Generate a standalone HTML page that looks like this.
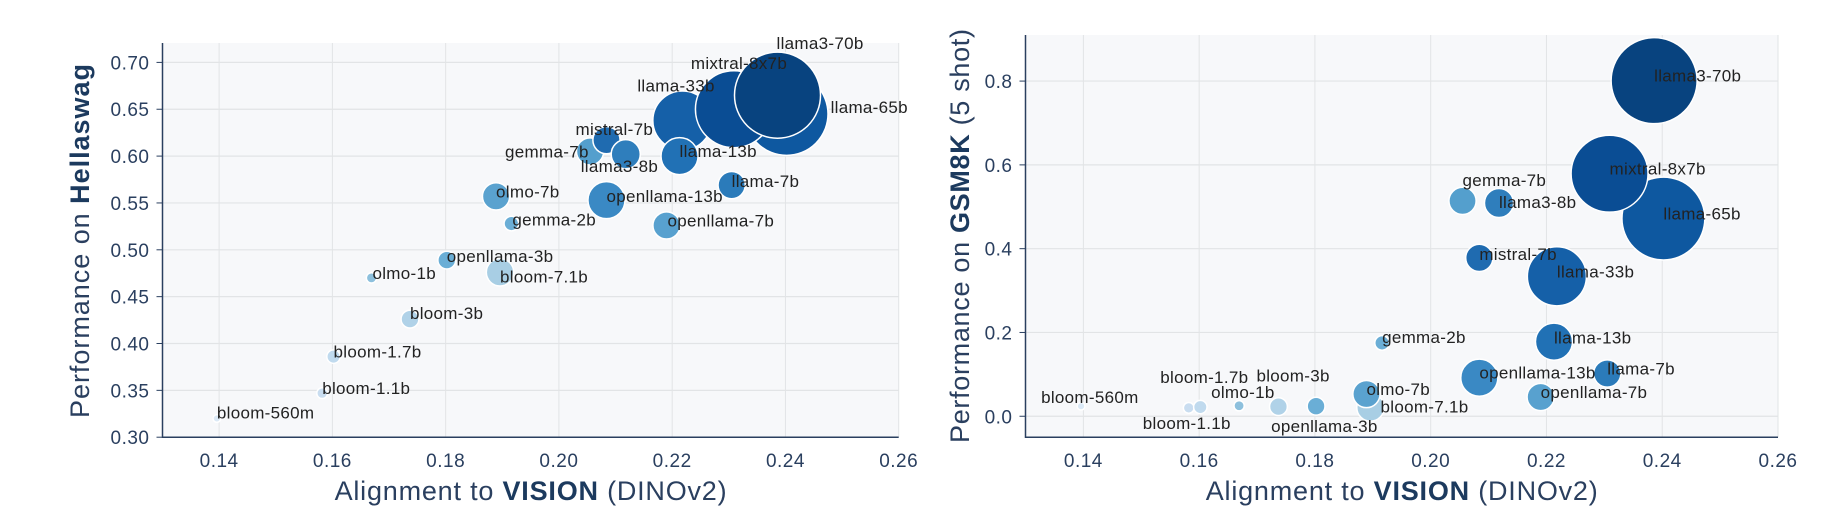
<!DOCTYPE html>
<html><head><meta charset="utf-8">
<style>
html,body{margin:0;padding:0;background:#fff;}
svg{display:block;font-family:"Liberation Sans",sans-serif;}
.tick{fill:#2a3f5f;font-size:19px;letter-spacing:0.5px;}
.lbl{fill:#222;font-size:17px;letter-spacing:0.3px;}
.ttl{fill:#2a3f5f;font-size:27px;}
</style></head><body>
<svg id="fig" width="1826" height="526" viewBox="0 0 1826 526" xmlns="http://www.w3.org/2000/svg"></svg>
<script>
const models = ["bloom-560m","bloom-1.1b","bloom-1.7b","bloom-3b","olmo-1b","openllama-3b","bloom-7.1b","gemma-2b","olmo-7b","openllama-13b","openllama-7b","llama-7b","gemma-7b","mistral-7b","llama3-8b","llama-33b","llama-13b","llama-65b","mixtral-8x7b","llama3-70b"];
const params = [0.56,1.1,1.7,3,1,3,7.1,2,7,13,7,7,7,7,8,33,13,65,56,70];
const alignment = [0.1396,0.1582,0.1602,0.1737,0.1669,0.1802,0.1896,0.1916,0.1889,0.2084,0.2190,0.2305,0.2055,0.2084,0.2118,0.2218,0.2213,0.2402,0.2309,0.2386];
const hellaswag = [0.320,0.347,0.386,0.426,0.470,0.489,0.476,0.528,0.557,0.553,0.526,0.569,0.605,0.617,0.602,0.638,0.600,0.645,0.650,0.665];
const gsm8k = [0.024,0.020,0.022,0.023,0.025,0.024,0.021,0.175,0.053,0.092,0.046,0.102,0.514,0.378,0.509,0.334,0.178,0.472,0.579,0.801];
const colors = ["#dbe9f6","#c9ddf0","#c0daee","#b0d2e8","#8dc0dd","#6aaed6","#a8cee4","#6baed6","#5aa2cf","#3a89c4","#58a1cf","#2b7bba","#549fcd","#1f6bb0","#2f7ebc","#1560a8","#2171b5","#0e58a0","#0a4d94","#08437f"];
const xTicks = [0.14,0.16,0.18,0.20,0.22,0.24,0.26];
const yTicksL = [0.30,0.35,0.40,0.45,0.50,0.55,0.60,0.65,0.70];
const yTicksR = [0.0,0.2,0.4,0.6,0.8];
// label offsets (styling, px)
const offL = [[0,-6],[0,-5],[0,-5],[0,-6],[1,-5],[0,-4],[0,4],[1,-4],[0,-5],[0,-4],[1,-5],[0,-4],[-85,0],[-31,-11],[-45,12],[-45,-35],[0,-5],[44,-7],[-43,-46],[-1,-52]];
const offR = [[-40,-9],[-46,15],[-40,-30],[-22,-31],[-28,-14],[-45,20],[10,-1],[0,-6],[0,-5],[0,-5],[0,-5],[0,-5],[0,-21],[0,-4],[0,-1],[0,-5],[0,-4],[0,-5],[0,-5],[0,-5]];

const NS="http://www.w3.org/2000/svg";
const svg=document.getElementById('fig');
function mk(tag,attrs,parent,text){const e=document.createElementNS(NS,tag);for(const k in attrs)e.setAttribute(k,attrs[k]);if(text!==undefined)e.textContent=text;(parent||svg).appendChild(e);return e;}

function chart(o){
  const g=mk('g',{});
  
  
  const sx=v=>o.x0+(v-0.13)/(0.26-0.13)*(o.x1-o.x0);
  const sy=v=>o.y1-(v-o.ymin)/(o.ymax-o.ymin)*(o.y1-o.y0);
  const bg=mk('rect',{x:o.x0,y:o.y0,width:o.x1-o.x0,height:o.y1-o.y0,fill:'#f7f8fa'},g);
  
  
  xTicks.forEach(t=>{
    const X=sx(t);
    const gl=mk('line',{x1:X,x2:X,y1:o.y0,y2:o.y1,stroke:'#e2e4e6','stroke-width':1},g);
    
    
    const tl=mk('text',{x:X,y:o.y1+30,'text-anchor':'middle',class:'tick'},g,t.toFixed(2));
    
    
  });
  o.yt.forEach(t=>{
    const Y=sy(t);
    const gl=mk('line',{x1:o.x0,x2:o.x1,y1:Y,y2:Y,stroke:'#e2e4e6','stroke-width':1.2},g);
    
    
    mk('line',{x1:o.x0-6,x2:o.x0,y1:Y,y2:Y,stroke:'#2a3f5f','stroke-width':1},g);
    const tl=mk('text',{x:o.x0-13,y:Y+7,'text-anchor':'end',class:'tick'},g,t.toFixed(o.dec));
    
    
  });
  const ax=mk('path',{d:`M${o.x0},${o.y0}V${o.y1}H${o.x1}`,stroke:'#2a3f5f','stroke-width':1.5,fill:'none'},g);
  
  
  const bub=mk('g',{},g);
  const lab=mk('g',{},g);
  models.forEach((m,i)=>{
    const cx=sx(alignment[i]),cy=sy(o.ys[i]);
    const c=mk('circle',{cx:cx,cy:cy,r:5.14*Math.sqrt(params[i]),fill:colors[i],stroke:'#fff','stroke-width':1.5},bub);
    
    
  });
  models.forEach((m,i)=>{
    const cx=sx(alignment[i]),cy=sy(o.ys[i]);
    const t=mk('text',{x:cx+o.off[i][0],y:cy+o.off[i][1]+6,class:'lbl'},lab,m);
    
    
  });
  const xt=mk('text',{x:(o.x0+o.x1)/2,y:500,'text-anchor':'middle',class:'ttl',textLength:392,lengthAdjust:'spacing'},g);
  
  
  mk('tspan',{},xt,'Alignment to ');
  mk('tspan',{'font-weight':'bold','fill':'#1c3a5e'},xt,'VISION');
  mk('tspan',{},xt,' (DINOv2)');
  const yt=mk('text',{x:0,y:0,'text-anchor':'middle',class:'ttl',textLength:o.ylen,lengthAdjust:'spacing',transform:`translate(${o.ytx},${o.yty}) rotate(-90)`},g);
  
  
  mk('tspan',{},yt,'Performance on ');
  mk('tspan',{'font-weight':'bold','fill':'#1c3a5e'},yt,o.ybold);
  if(o.ytail) mk('tspan',{},yt,o.ytail);
}
chart({name:'hellaswag-chart',x0:162.5,x1:898.7,y0:43,y1:437.2,ymin:0.30,ymax:0.7207,yt:yTicksL,dec:2,ys:hellaswag,off:offL,ybold:'Hellaswag',ytail:'',ytx:89,yty:241,ylen:354});
chart({name:'gsm8k-chart',x0:1025.5,x1:1778,y0:35,y1:437.2,ymin:-0.05,ymax:0.91,yt:yTicksR,dec:1,ys:gsm8k,off:offR,ybold:'GSM8K',ytail:' (5 shot)',ytx:969,yty:236,ylen:414});
</script>
</body></html>
